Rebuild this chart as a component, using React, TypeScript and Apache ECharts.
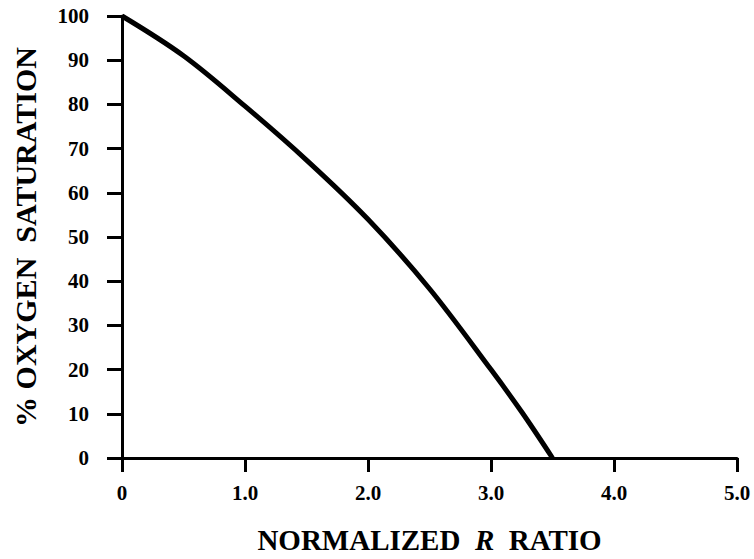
import React, { useEffect, useRef } from "react";
import * as echarts from "echarts";

const ratioValues = [0, 0.5, 1.0, 1.5, 2.0, 2.5, 3.0, 3.25, 3.5];
const saturationValues = [100, 91.0, 79.6, 67.4, 54.0, 38.3, 20.0, 10.4, 0];
const xTickLabels = ["0", "1.0", "2.0", "3.0", "4.0", "5.0"];
const yAxisTitle = "% OXYGEN  SATURATION";

const FONT = '"Liberation Serif", "Times New Roman", serif';

export default function App() {
  const ref = useRef<HTMLDivElement>(null);
  useEffect(() => {
    if (!ref.current) return;
    const chart = echarts.init(ref.current, null, { renderer: "svg" });
    const data = ratioValues.map((x, i) => [x, saturationValues[i]]);
    chart.setOption({
      animation: false,
      backgroundColor: "#ffffff",
      grid: {
        left: 122,
        right: 17,
        top: 16,
        bottom: 101,
        containLabel: false,
        outerBoundsMode: "none",
      },
      xAxis: {
        type: "value",
        min: 0,
        max: 5,
        interval: 1,
        name: "{a|NORMALIZED  }{i|R}{a|  RATIO}",
        nameLocation: "middle",
        nameGap: 67,
        nameTextStyle: {
          rich: {
            a: { fontFamily: FONT, fontWeight: "bold", fontSize: 29, color: "#000" },
            i: { fontFamily: FONT, fontWeight: "bold", fontStyle: "italic", fontSize: 29, color: "#000" },
          },
        },
        axisLine: { show: true, onZero: false, lineStyle: { color: "#000", width: 3 } },
        axisTick: { show: true, length: 14, lineStyle: { color: "#000", width: 3 } },
        axisLabel: {
          margin: 24,
          fontFamily: FONT,
          fontWeight: "bold",
          fontSize: 21,
          color: "#000",
          formatter: (v: number) => xTickLabels[Math.round(v)] ?? String(v),
        },
        splitLine: { show: false },
      },
      yAxis: {
        type: "value",
        min: 0,
        max: 100,
        interval: 10,
        name: yAxisTitle,
        nameLocation: "middle",
        nameGap: 82,
        nameRotate: 90,
        nameTextStyle: { fontFamily: FONT, fontWeight: "bold", fontSize: 30, color: "#000" },
        axisLine: { show: true, onZero: false, lineStyle: { color: "#000", width: 3 } },
        axisTick: { show: true, length: 15, lineStyle: { color: "#000", width: 3 } },
        axisLabel: {
          margin: 33,
          fontFamily: FONT,
          fontWeight: "bold",
          fontSize: 21,
          color: "#000",
        },
        splitLine: { show: false },
      },
      series: [
        {
          type: "line",
          data,
          smooth: 0.35,
          showSymbol: false,
          symbol: "none",
          lineStyle: { color: "#000", width: 5 },
          z: 3,
        },
      ],
    });
    return () => chart.dispose();
  }, []);
  return (
    <div
      ref={ref}
      style={{ position: "fixed", left: 0, top: 0, width: 754, height: 559, background: "#fff" }}
    />
  );
}
